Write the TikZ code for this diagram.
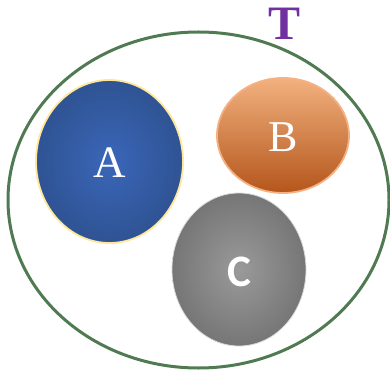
\documentclass[tikz,border=0pt]{standalone}
\usepackage{fontspec}
\setmainfont{Liberation Serif}
\newfontfamily\calfont{Carlito}
\usetikzlibrary{shapes.geometric}
\definecolor{outergreen}{HTML}{507A52}
\definecolor{tpurple}{HTML}{7030A0}
\definecolor{ablueIn}{HTML}{3A67B9}
\definecolor{ablueOut}{HTML}{2F5393}
\definecolor{ayellow}{HTML}{FFE699}
\definecolor{borTop}{HTML}{F2B17F}
\definecolor{borMid}{HTML}{ED8239}
\definecolor{borBot}{HTML}{B4561B}
\definecolor{bedge}{HTML}{F4B183}
\definecolor{cgrayIn}{HTML}{9A9A9A}
\definecolor{cgrayOut}{HTML}{767676}
\definecolor{cedge}{HTML}{D9D9D9}
\tikzset{
  setblob/.style={ellipse, inner sep=0pt, text=white, text depth=0pt},
}
\begin{document}
\begin{tikzpicture}[x=1pt,y=-1pt]
\useasboundingbox (0,0) rectangle (390,371);
\node[ellipse, draw=outergreen, line width=3pt, minimum width=381pt, minimum height=336pt, inner sep=0pt] (T) at (198.5,200) {};
\node[setblob, draw=ayellow, line width=1.8pt, inner color=ablueIn, outer color=ablueOut,
  minimum width=147pt, minimum height=163pt, text height=33pt, font=\fontsize{45}{45}\selectfont] (A) at (109.5,161.5) {A};
\node[setblob, draw=bedge, line width=1.8pt, top color=borTop, middle color=borMid, bottom color=borBot,
  minimum width=132pt, minimum height=115pt, text height=32pt, font=\fontsize{44}{44}\selectfont] (B) at (283,135.5) {B};
\node[setblob, draw=cedge, line width=0.8pt, inner color=cgrayIn, outer color=cgrayOut,
  minimum width=134pt, minimum height=153pt, text height=34.5pt, font=\calfont\bfseries\fontsize{45}{45}\selectfont] (C) at (239,269.5) {C};
\node[text=tpurple, font=\bfseries\fontsize{48}{48}\selectfont, inner sep=0pt] (Tl) at (285,24) {T};
\end{tikzpicture}
\end{document}
